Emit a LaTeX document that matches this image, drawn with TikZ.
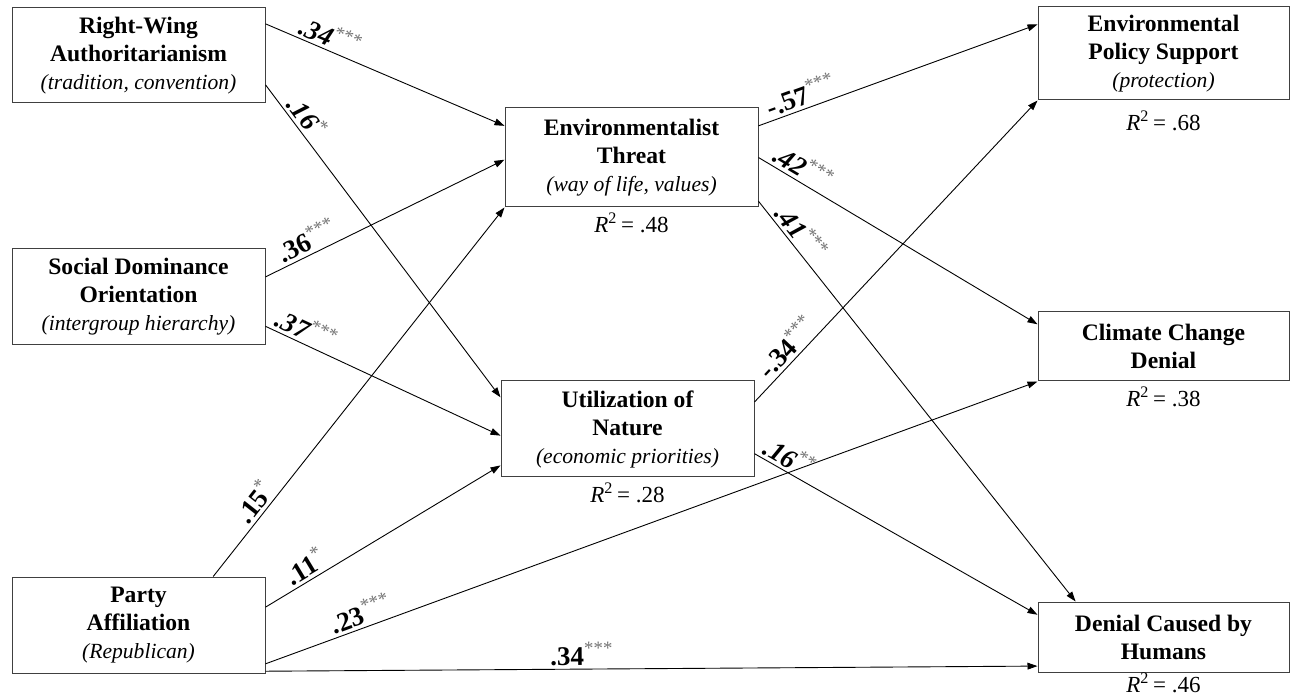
\documentclass[tikz,border=0pt]{standalone}
\usepackage{fontspec}
\setmainfont{Liberation Serif}
\usetikzlibrary{arrows.meta}

\tikzset{
    latent/.style={draw=black!75, line width=0.5pt, inner sep=0pt, align=center,
        font=\fontsize{11.8}{14}\selectfont\bfseries, minimum width=126.5pt},
    path_arrow/.style={-{Triangle[length=5pt,width=3.4pt]}, line width=0.45pt},
    coef/.style={sloped, above, inner sep=1.5pt, font=\fontsize{13.5}{15}\selectfont\bfseries},
    coef_it/.style={coef, font=\fontsize{13.5}{15}\selectfont\bfseries\itshape},
    rsq/.style={below, inner sep=2.5pt, font=\fontsize{11.5}{13}\selectfont}
}
\newcommand{\boxsub}[1]{\\{\fontsize{10.8}{14}\selectfont\mdseries\itshape #1}}
\newcommand{\starmark}[1]{\textsuperscript{\color{black!55}\mdseries\upshape #1}}
\newcommand{\rsqtext}[1]{\textit{R}\textsuperscript{2}\,= #1}

\begin{document}
\begin{tikzpicture}[x=0.5pt, y=-0.5pt]
    \useasboundingbox (0,0) rectangle (1292,695);

    % predictors
    \node[latent, minimum height=47.5pt] (rwa_box) at (138.5,55.5)
        {Right-Wing\\Authoritarianism\boxsub{(tradition, convention)}};
    \node[latent, minimum height=48pt] (sdo_box) at (138.5,297)
        {Social Dominance\\Orientation\boxsub{(intergroup hierarchy)}};
    \node[latent, minimum height=48pt] (party_box) at (138.5,625)
        {Party\\Affiliation\boxsub{(Republican)}};

    % mediators
    \node[latent, minimum height=49.5pt] (env_box) at (631.5,157.5)
        {Environmentalist\\Threat\boxsub{(way of life, values)}};
    \node[latent, minimum height=48pt] (util_box) at (627.5,429)
        {Utilization of\\Nature\boxsub{(economic priorities)}};

    % outcomes
    \node[latent, minimum width=125.5pt, minimum height=46.5pt] (eps_box) at (1163.5,53.5)
        {Environmental\\Policy Support\boxsub{(protection)}};
    \node[latent, minimum width=125.5pt, minimum height=34.5pt] (ccd_box) at (1163.5,346.5)
        {Climate Change\\Denial};
    \node[latent, minimum width=125.5pt, minimum height=35pt] (dch_box) at (1163.5,637)
        {Denial Caused by\\Humans};

    \node[rsq] (env_rsq) at (env_box.south) {\rsqtext{.48}};
    \node[rsq] (util_rsq) at (util_box.south) {\rsqtext{.28}};
    \node[rsq, inner sep=5pt] (eps_rsq) at (eps_box.south) {\rsqtext{.68}};
    \node[rsq] (ccd_rsq) at (ccd_box.south) {\rsqtext{.38}};
    \node[rsq, inner sep=0pt] (dch_rsq) at (dch_box.south) {\rsqtext{.46}};

    \draw[path_arrow] (rwa_box.14) -- node[coef_it, pos=.25] {.34\starmark{***}} (env_box.166);
    \draw[path_arrow] (rwa_box.347) -- node[coef_it, pos=.13] {.16\starmark{*}} (util_box.166);
    \draw[path_arrow] (sdo_box.9) -- node[coef, pos=.2] {.36\starmark{***}} (env_box.181);
    \draw[path_arrow] (sdo_box.347) -- node[coef_it, pos=.15] {.37\starmark{***}} (util_box.183);
    \draw[path_arrow] (party_box.33) -- node[coef, pos=.18] {.15\starmark{*}} (env_box.south west);
    \draw[path_arrow] (party_box.8.5) -- node[coef, pos=.2] {.11\starmark{*}} (util_box.196);
    \draw[path_arrow] (party_box.343) -- node[coef, pos=.13] {.23\starmark{***}} (ccd_box.south west);
    \draw[path_arrow] (party_box.340) -- node[coef, pos=.41] {.34\starmark{***}} (dch_box.193.4);

    \draw[path_arrow] (env_box.14) -- node[coef, pos=.17] {-.57\starmark{***}} (eps_box.167);
    \draw[path_arrow] (env_box.0) -- node[coef_it, pos=.135] {.42\starmark{***}} (ccd_box.170);
    \draw[path_arrow] (env_box.341) -- node[coef_it, pos=.1] {.41\starmark{***}} (dch_box.158.3);
    \draw[path_arrow] (util_box.12) -- node[coef, pos=.15] {-.34\starmark{***}} (eps_box.south west);
    \draw[path_arrow] (util_box.349) -- node[coef_it, pos=.1] {.16\starmark{**}} (dch_box.170.5);
\end{tikzpicture}
\end{document}
